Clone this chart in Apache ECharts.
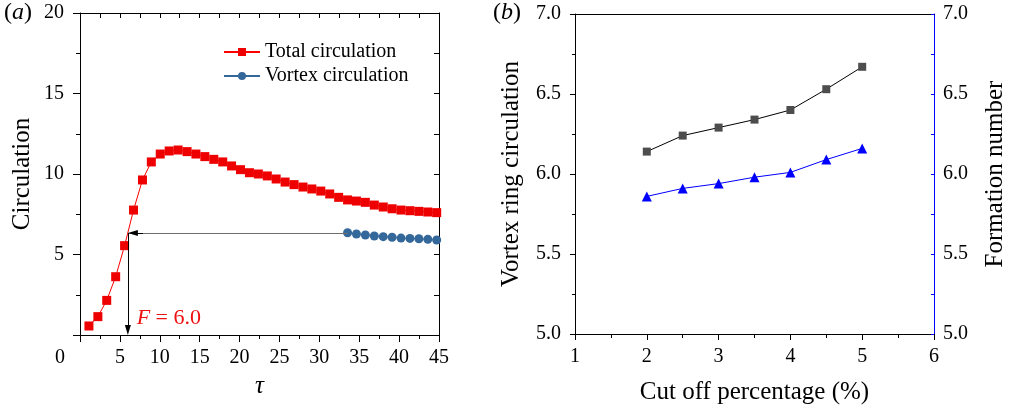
<!DOCTYPE html>
<html>
<head>
<meta charset="utf-8">
<script src="https://cdn.jsdelivr.net/npm/echarts@6/dist/echarts.min.js"></script>
<style>
  html, body { margin: 0; padding: 0; background: #fff; }
  #chart { width: 1012px; height: 410px; }
</style>
</head>
<body>
<div id="chart"></div>
<script>
// (a) circulation history against formation time
const tau = [1.12, 2.24, 3.35, 4.47, 5.59, 6.71, 7.83, 8.94, 10.06, 11.18,
             12.30, 13.42, 14.53, 15.65, 16.77, 17.89, 19.00, 20.12, 21.24, 22.36,
             23.48, 24.59, 25.71, 26.83, 27.95, 29.06, 30.18, 31.30, 32.42, 33.54,
             34.65, 35.77, 36.89, 38.01, 39.12, 40.24, 41.36, 42.48, 43.60, 44.71];
const totalCirculation = [0.56, 1.14, 2.15, 3.62, 5.55, 7.76, 9.63, 10.75, 11.24, 11.43,
                          11.49, 11.39, 11.24, 11.08, 10.91, 10.75, 10.50, 10.27, 10.08, 10.00,
                          9.88, 9.69, 9.50, 9.34, 9.19, 9.07, 8.94, 8.76, 8.55, 8.39,
                          8.32, 8.24, 8.07, 7.95, 7.84, 7.76, 7.72, 7.68, 7.64, 7.60];
const vortexTau = [33.54, 34.65, 35.77, 36.89, 38.01, 39.12, 40.24, 41.36, 42.48, 43.60, 44.71];
const vortexCirculation = [6.35, 6.27, 6.21, 6.15, 6.11, 6.07, 6.02, 6.00, 5.98, 5.94, 5.90];
const formationTau = 6.0;       // F, where total circulation reaches the vortex level
const vortexLevel = 6.33;       // level carried back from the pinched-off vortex

// (b) sensitivity to the cut-off percentage
const cutOff = [2, 2.5, 3, 3.5, 4, 4.5, 5];
const ringCirculation = [6.14, 6.24, 6.29, 6.34, 6.40, 6.53, 6.67];
const formationNumber = [5.86, 5.91, 5.94, 5.98, 6.01, 6.09, 6.16];

const FONT = 'Liberation Serif';
const zip = (xs, ys) => xs.map((x, i) => [x, ys[i]]);
const black = '#000';

// arrowheads are centred on a line end, so pull each end back by half a head
const HEAD_TAU = 0.63;   // ≈ 5 px along the τ axis
const HEAD_CIRC = 0.31;  // ≈ 5 px along the circulation axis

const tickAxisLine = { show: true, onZero: false, lineStyle: { color: black, width: 1 } };

const chart = echarts.init(document.getElementById('chart'), null, { renderer: 'canvas' });

chart.setOption({
  animation: false,
  backgroundColor: '#fff',
  textStyle: { fontFamily: FONT, color: black },
  grid: [
    { left: 80, top: 13, width: 359, height: 322 },
    { left: 575, top: 14, width: 359, height: 321 }
  ],
  legend: {
    data: ['Total circulation', 'Vortex circulation'],
    orient: 'vertical',
    left: 218,
    top: 37,
    itemWidth: 36,
    itemHeight: 10,
    itemGap: 4,
    textStyle: { fontFamily: FONT, fontSize: 20, color: black }
  },
  xAxis: [
    {
      gridIndex: 0, type: 'value', position: 'bottom', min: 0, max: 45, interval: 5,
      axisLine: tickAxisLine,
      axisTick: { show: true, length: 7, lineStyle: { color: black } },
      minorTick: { show: true, splitNumber: 2, length: 4, lineStyle: { color: black } },
      splitLine: { show: false },
      axisLabel: {
        color: black, fontSize: 20, fontFamily: FONT, margin: 13,
        formatter: v => (v === 0 ? '{z|0}' : String(v)),
        rich: { z: { fontSize: 20, fontFamily: FONT, color: black, padding: [0, 40, 0, 0] } }
      },
      name: 'τ', nameLocation: 'middle', nameGap: 39,
      nameTextStyle: { fontSize: 25, fontStyle: 'italic', fontFamily: FONT, color: black }
    },
    {
      gridIndex: 0, type: 'value', position: 'top', min: 0, max: 45, interval: 2.5,
      axisLine: tickAxisLine,
      axisTick: { show: true, inside: true, length: 5, lineStyle: { color: black } },
      axisLabel: { show: false }, splitLine: { show: false }
    },
    {
      gridIndex: 1, type: 'value', position: 'bottom', min: 1, max: 6, interval: 1,
      axisLine: tickAxisLine,
      axisTick: { show: true, length: 6, lineStyle: { color: black } },
      minorTick: { show: true, splitNumber: 2, length: 4, lineStyle: { color: black } },
      splitLine: { show: false },
      axisLabel: { color: black, fontSize: 20, fontFamily: FONT, margin: 13 },
      name: 'Cut off percentage (%)', nameLocation: 'middle', nameGap: 46,
      nameTextStyle: { fontSize: 25, fontFamily: FONT, color: black }
    },
    {
      gridIndex: 1, type: 'value', position: 'top', min: 1, max: 6,
      axisLine: tickAxisLine, axisTick: { show: false },
      axisLabel: { show: false }, splitLine: { show: false }
    }
  ],
  yAxis: [
    {
      gridIndex: 0, type: 'value', position: 'left', min: 0, max: 20, interval: 5,
      axisLine: tickAxisLine,
      axisTick: { show: true, length: 7, lineStyle: { color: black } },
      minorTick: { show: true, splitNumber: 2, length: 4, lineStyle: { color: black } },
      splitLine: { show: false },
      axisLabel: {
        color: black, fontSize: 20, fontFamily: FONT, margin: 16,
        formatter: v => (v === 0 ? '' : String(v))
      },
      name: 'Circulation', nameLocation: 'middle', nameGap: 45,
      nameTextStyle: { fontSize: 25, fontFamily: FONT, color: black }
    },
    {
      gridIndex: 0, type: 'value', position: 'right', min: 0, max: 20, interval: 2.5,
      axisLine: tickAxisLine,
      axisTick: { show: true, inside: true, length: 5, lineStyle: { color: black } },
      axisLabel: { show: false }, splitLine: { show: false }
    },
    {
      gridIndex: 1, type: 'value', position: 'left', min: 5, max: 7, interval: 0.5,
      axisLine: tickAxisLine,
      axisTick: { show: true, length: 5, lineStyle: { color: black } },
      minorTick: { show: true, splitNumber: 2, length: 3, lineStyle: { color: black } },
      splitLine: { show: false },
      axisLabel: { color: black, fontSize: 20, fontFamily: FONT, margin: 14, formatter: v => v.toFixed(1) },
      name: 'Vortex ring circulation', nameLocation: 'middle', nameGap: 51,
      nameTextStyle: { fontSize: 25, fontFamily: FONT, color: black }
    },
    {
      gridIndex: 1, type: 'value', position: 'right', min: 5, max: 7, interval: 0.5,
      axisLine: { show: true, onZero: false, lineStyle: { color: '#0000ff', width: 1 } },
      axisTick: { show: true, inside: true, length: 3, lineStyle: { color: '#0000ff' } },
      minorTick: { show: true, splitNumber: 2, length: 3, lineStyle: { color: '#0000ff' } },
      splitLine: { show: false },
      axisLabel: { color: black, fontSize: 20, fontFamily: FONT, margin: 9, formatter: v => v.toFixed(1) },
      name: 'Formation number', nameLocation: 'middle', nameGap: 49,
      nameTextStyle: { fontSize: 25, fontFamily: FONT, color: black }
    }
  ],
  series: [
    {
      name: 'Total circulation', type: 'line', xAxisIndex: 0, yAxisIndex: 0,
      data: zip(tau, totalCirculation),
      symbol: 'rect', symbolSize: 9, clip: false,
      itemStyle: { color: '#ee0000' },
      lineStyle: { color: '#ff0000', width: 1 },
      markLine: {
        silent: true,
        symbol: ['none', 'triangle'],
        symbolSize: [6, 10],
        label: { show: false },
        lineStyle: { type: 'solid', width: 1, color: black },
        data: [
          // grey guide from the vortex level back to the total-circulation curve
          [{ coord: [vortexTau[0], vortexLevel], symbol: 'none', lineStyle: { color: '#6e6e6e', type: 'solid', width: 1 } },
           { coord: [formationTau, vortexLevel], symbol: 'none' }],
          // black head of that arrow, tip on τ = F
          [{ coord: [formationTau + 3 * HEAD_TAU, vortexLevel], symbol: 'none' },
           { coord: [formationTau + HEAD_TAU, vortexLevel], symbol: 'triangle' }],
          // drop from the crossing down to the τ axis
          [{ coord: [formationTau, vortexLevel], symbol: 'none' },
           { coord: [formationTau, HEAD_CIRC], symbol: 'triangle' }]
        ]
      },
      markPoint: {
        silent: true,
        symbol: 'circle', symbolSize: 0,
        data: [{ coord: [7.1, 1.06] }],
        label: {
          show: true, position: 'right', distance: 0,
          formatter: `{i|F}{n| = ${formationTau.toFixed(1)}}`,
          rich: {
            i: { fontFamily: FONT, fontSize: 22, fontStyle: 'italic', color: '#ee1111' },
            n: { fontFamily: FONT, fontSize: 22, color: '#ee1111' }
          }
        }
      }
    },
    {
      name: 'Vortex circulation', type: 'line', xAxisIndex: 0, yAxisIndex: 0, z: 3,
      data: zip(vortexTau, vortexCirculation),
      symbol: 'circle', symbolSize: 9, clip: false,
      itemStyle: { color: '#34679a' },
      lineStyle: { color: '#34679a', width: 1 }
    },
    {
      name: 'Vortex ring circulation', type: 'line', xAxisIndex: 2, yAxisIndex: 2,
      data: zip(cutOff, ringCirculation),
      symbol: 'rect', symbolSize: 8,
      itemStyle: { color: '#4d4d4d' },
      lineStyle: { color: black, width: 1 }
    },
    {
      name: 'Formation number', type: 'line', xAxisIndex: 2, yAxisIndex: 3,
      data: zip(cutOff, formationNumber),
      symbol: 'triangle', symbolSize: 10,
      itemStyle: { color: '#0000ff' },
      lineStyle: { color: '#0000ff', width: 1 }
    }
  ],
  graphic: [
    {
      type: 'text', left: 4, top: 1,
      style: {
        text: '{p|(}{i|a}{p|)}',
        rich: {
          p: { fontFamily: FONT, fontSize: 24, fill: black },
          i: { fontFamily: FONT, fontSize: 24, fontStyle: 'italic', fill: black }
        }
      }
    },
    {
      type: 'text', left: 493, top: 1,
      style: {
        text: '{p|(}{i|b}{p|)}',
        rich: {
          p: { fontFamily: FONT, fontSize: 24, fill: black },
          i: { fontFamily: FONT, fontSize: 24, fontStyle: 'italic', fill: black }
        }
      }
    }
  ]
});
</script>
</body>
</html>
